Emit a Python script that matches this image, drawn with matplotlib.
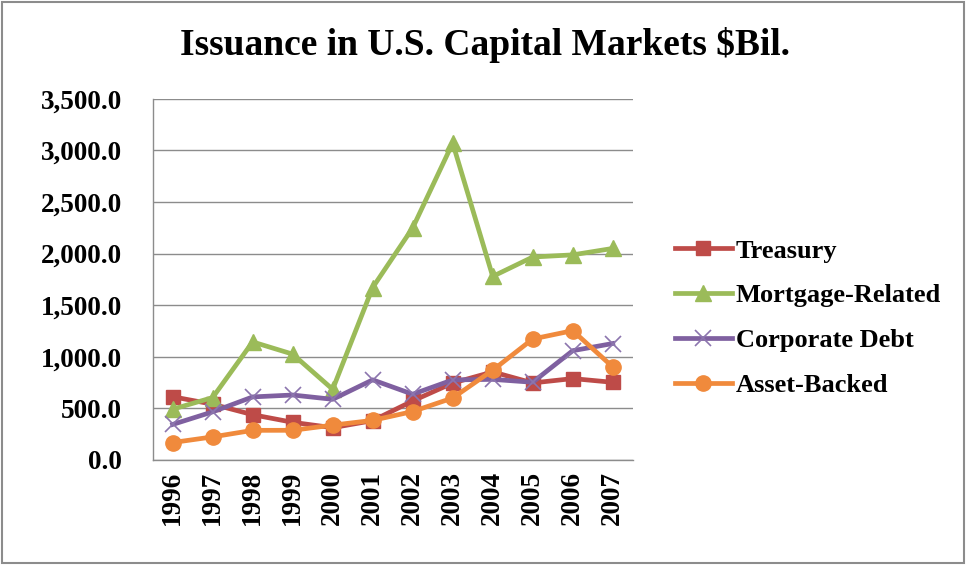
import matplotlib.pyplot as plt
from matplotlib.patches import Rectangle
from matplotlib.ticker import FuncFormatter

# ---------------------- Data -------------------

years = ['1996', '1997', '1998', '1999', '2000', '2001',
         '2002', '2003', '2004', '2005', '2006', '2007']
treasury = [612.4, 540.0, 438.4, 364.6, 312.4, 380.7, 571.6, 745.2, 853.3, 746.2, 788.5, 752.3]
mortgage = [491.5, 604.4, 1143.9, 1025.4, 684.4, 1671.0, 2249.2, 3071.1, 1779.0, 1966.7, 1987.8, 2050.2]
corporate = [343.7, 466.0, 610.7, 629.2, 587.5, 776.1, 636.7, 775.8, 780.7, 752.8, 1058.9, 1128.3]
asset_backed = [168.4, 223.1, 286.6, 287.1, 337.0, 383.3, 469.2, 600.2, 869.6, 1172.1, 1253.1, 901.7]

series_names = ['Treasury', 'Mortgage-Related', 'Corporate Debt', 'Asset-Backed']

# ---------------------- Plot -------------------

plt.rcParams['font.family'] = ['Liberation Serif', 'DejaVu Serif']
plt.rcParams['font.weight'] = 'bold'

fig = plt.figure(figsize=(9.66, 5.65), dpi=100)
ax = fig.add_axes([0.158, 0.186, 0.497, 0.639])

x = range(len(years))
styles = [
    (treasury, '#BE4B48', 's', 10, None),
    (mortgage, '#9BBB59', '^', 11, None),
    (corporate, '#7F60A0', 'x', 11, 1.2),
    (asset_backed, '#F08A3C', 'o', 11, None),
]
for (vals, col, mk, ms, mew), name in zip(styles, series_names):
    kw = dict(color=col, lw=3.4, marker=mk, markersize=ms, label=name)
    if mk == 'x':
        kw.update(markeredgecolor='#8C75AE', markeredgewidth=mew)
    ax.plot(x, vals, **kw)

ax.set_xlim(-0.5, len(years) - 0.5)
ax.set_ylim(0, 3500)
ax.set_yticks(range(0, 3501, 500))
ax.yaxis.set_major_formatter(FuncFormatter(lambda v, p: f'{v:,.1f}'))
ax.set_xticks(list(x))
ax.set_xticklabels(years, rotation=90)
ax.tick_params(axis='both', labelsize=19.5, length=0)
ax.tick_params(axis='y', pad=22)
ax.tick_params(axis='x', pad=8)
ax.grid(axis='y', color='#8C8C8C', lw=1)
ax.set_axisbelow(True)
for s in ['top', 'right']:
    ax.spines[s].set_visible(False)
for s in ['left', 'bottom']:
    ax.spines[s].set_color('#8C8C8C')
    ax.spines[s].set_linewidth(1)

fig.text(0.502, 0.92, 'Issuance in U.S. Capital Markets $Bil.', ha='center', va='center',
         fontsize=27, fontweight='bold')

fig.legend(loc='center left', bbox_to_anchor=(0.674, 0.437), frameon=False,
           fontsize=19, handlelength=2.15, labelspacing=0.81, handletextpad=0.15)

fig.patches.append(Rectangle((0.002, 0.003), 0.996, 0.994, transform=fig.transFigure,
                             fill=False, edgecolor='#8C8C8C', lw=1.5))

fig.savefig('out.png', dpi=100)
